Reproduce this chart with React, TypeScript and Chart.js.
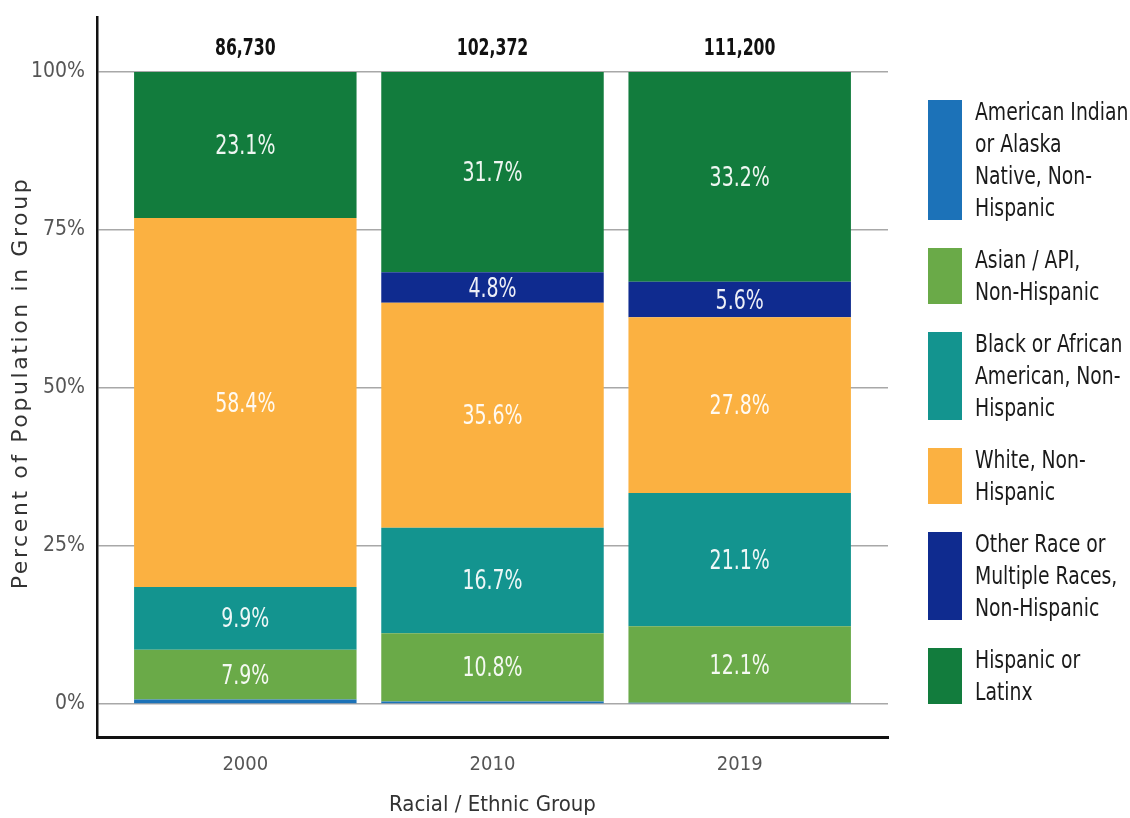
import React, { useEffect, useRef } from "react";
import { Chart, registerables } from "chart.js";

Chart.register(...registerables);

const years = ["2000", "2010", "2019"];
const totals = [86730, 102372, 111200];
const aiNative = [0.7, 0.4, 0.2];
const asian = [7.9, 10.8, 12.1];
const black = [9.9, 16.7, 21.1];
const white = [58.4, 35.6, 27.8];
const otherRace = [0, 4.8, 5.6];
const hispanic = [23.1, 31.7, 33.2];
const yTicks = [0, 25, 50, 75, 100];

const seriesNames = [
  "American Indian or Alaska Native, Non-Hispanic",
  "Asian / API, Non-Hispanic",
  "Black or African American, Non-Hispanic",
  "White, Non-Hispanic",
  "Other Race or Multiple Races, Non-Hispanic",
  "Hispanic or Latinx",
];
const legendLines = [
  ["American Indian", "or Alaska", "Native, Non-", "Hispanic"],
  ["Asian / API,", "Non-Hispanic"],
  ["Black or African", "American, Non-", "Hispanic"],
  ["White, Non-", "Hispanic"],
  ["Other Race or", "Multiple Races,", "Non-Hispanic"],
  ["Hispanic or", "Latinx"],
];
const yTitle = "Percent of Population in Group";
const xTitle = "Racial / Ethnic Group";
const seriesColors = ["#1c72b8", "#6aaa48", "#13948f", "#fbb141", "#0f2b8f", "#127c3d"];
const seriesValues = [aiNative, asian, black, white, otherRace, hispanic];

const NARROW = '"Liberation Sans Narrow", "DejaVu Sans Condensed", sans-serif';

function squeezedText(ctx: any, text: string, x: number, y: number, sx: number) {
  ctx.save();
  ctx.translate(x, y);
  ctx.scale(sx, 1);
  ctx.fillText(text, 0, 0);
  ctx.restore();
}

const labelPlugin = {
  id: "segmentLabels",
  afterDatasetsDraw(chart: any) {
    const ctx = chart.ctx;
    ctx.save();
    ctx.textAlign = "center";
    ctx.textBaseline = "middle";
    ctx.font = `27px ${NARROW}`;
    ctx.fillStyle = "rgba(255,255,255,0.93)";
    chart.data.datasets.forEach((ds: any, di: number) => {
      const meta = chart.getDatasetMeta(di);
      meta.data.forEach((el: any, i: number) => {
        const v = ds.data[i].y;
        if (v < 3) return;
        const p = el.getProps(["x", "y", "base"], true);
        squeezedText(ctx, v.toFixed(1) + "%", p.x, (p.y + p.base) / 2 + 2, 0.78);
      });
    });
    // totals above bars
    const yScale = chart.scales.y;
    const topMeta = chart.getDatasetMeta(0);
    ctx.font = `bold 23px ${NARROW}`;
    ctx.fillStyle = "#111";
    topMeta.data.forEach((el: any, i: number) => {
      squeezedText(ctx, totals[i].toLocaleString("en-US"), el.x, yScale.getPixelForValue(100) - 23, 0.76);
    });
    ctx.restore();
  },
};

const legendPlugin = {
  id: "tallLegend",
  afterDraw(chart: any) {
    const ctx = chart.ctx;
    const area = chart.chartArea;
    const lineH = 32;
    const boxX = area.right + 40;
    const boxW = 34;
    let top = area.top + 83;
    ctx.save();
    ctx.font = `24px ${NARROW}`;
    ctx.textAlign = "left";
    ctx.textBaseline = "middle";
    legendLines.forEach((lines, i) => {
      const h = lines.length * lineH - 8;
      ctx.fillStyle = seriesColors[i];
      ctx.fillRect(boxX, top, boxW, h);
      ctx.fillStyle = "#1a1a1a";
      lines.forEach((t, j) => {
        squeezedText(ctx, t, boxX + boxW + 13, top + 13.5 + j * lineH, 0.87);
      });
      top += lines.length * lineH + 20;
    });
    // y axis title (spaced)
    const yScale = chart.scales.y;
    ctx.save();
    ctx.translate(21, yScale.getPixelForValue(50) - 5);
    ctx.rotate(-Math.PI / 2);
    ctx.font = '22px "DejaVu Sans", Verdana, sans-serif';
    ctx.textAlign = "center";
    ctx.textBaseline = "middle";
    ctx.fillStyle = "#333";
    try {
      (ctx as any).letterSpacing = "2.6px";
    } catch (e) {}
    ctx.fillText(yTitle, 0, 0);
    ctx.restore();
    ctx.restore();
  },
};

const bgPlugin = {
  id: "bg",
  beforeDraw(chart: any) {
    const ctx = chart.ctx;
    ctx.save();
    ctx.fillStyle = "#ffffff";
    ctx.fillRect(0, 0, chart.width, chart.height);
    ctx.restore();
  },
};

export default function App() {
  const ref = useRef<HTMLCanvasElement | null>(null);
  useEffect(() => {
    if (!ref.current) return;
    const chart = new Chart(ref.current, {
      type: "bar",
      data: {
        datasets: seriesValues.map((vals, si) => ({
          label: seriesNames[si],
          data: vals.map((v, i) => ({ x: i, y: v })),
          backgroundColor: seriesColors[si],
          borderWidth: 0,
          barPercentage: 0.9,
          categoryPercentage: 1,
        })),
      },
      options: {
        responsive: false,
        animation: false,
        layout: { padding: { top: 17, right: 242, bottom: 0, left: 0 } },
        plugins: {
          legend: { display: false },
          tooltip: { enabled: false },
        },
        scales: {
          x: {
            type: "linear",
            stacked: true,
            offset: false,
            min: -0.6,
            max: 2.6,
            grid: { display: false, drawTicks: false, offset: false },
            border: { display: true, color: "#111", width: 3 },
            afterBuildTicks: (s: any) => {
              s.ticks = years.map((_, i) => ({ value: i }));
            },
            afterFit: (s: any) => {
              s.height = 81;
              s.paddingLeft = 0;
              s.paddingRight = 0;
            },
            ticks: {
              padding: 16,
              color: "#555",
              font: { family: NARROW, size: 20 },
              callback: (v: any) => years[v] ?? "",
            },
            title: {
              display: true,
              text: xTitle,
              color: "#333",
              font: { family: NARROW, size: 22 },
              padding: { top: 0, bottom: 0 },
            },
          },
          y: {
            stacked: true,
            min: -5.22,
            max: 108.7,
            grid: { color: "#a8a8a8", lineWidth: 1.5, drawTicks: false },
            border: { display: true, color: "#111", width: 2.5 },
            afterBuildTicks: (s: any) => {
              s.ticks = yTicks.map((v) => ({ value: v }));
            },
            afterFit: (s: any) => {
              s.width = 97;
              s.paddingTop = 0;
              s.paddingBottom = 0;
            },
            ticks: {
              padding: 12,
              color: "#555",
              font: { family: NARROW, size: 21 },
              callback: (v: any) => v + "%",
            },
            title: { display: false },
          },
        },
      },
      plugins: [bgPlugin, labelPlugin, legendPlugin],
    } as any);
    return () => chart.destroy();
  }, []);
  return (
    <div style={{ position: "fixed", left: 0, top: 0, width: 1130, height: 818, background: "#fff" }}>
      <canvas ref={ref} width={1130} height={818} />
    </div>
  );
}
